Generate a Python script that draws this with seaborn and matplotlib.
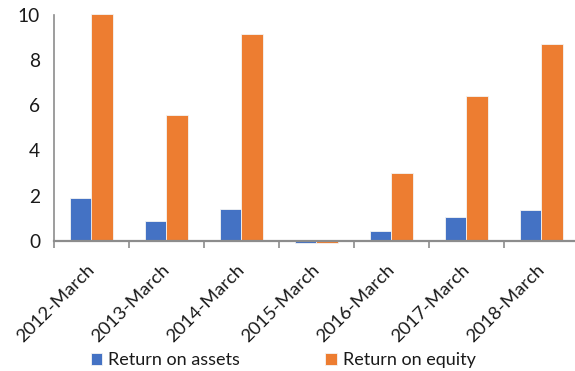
import matplotlib
matplotlib.use("Agg")
import matplotlib.pyplot as plt
import seaborn as sns
import pandas as pd
import numpy as np

categories = ["2012-March", "2013-March", "2014-March", "2015-March",
              "2016-March", "2017-March", "2018-March"]
roa = [1.89, 0.87, 1.42, -0.08, 0.44, 1.04, 1.38]
roe = [10.04, 5.55, 9.14, -0.08, 3.0, 6.39, 8.71]
series = ["Return on assets", "Return on equity"]
colors = ["#4472C4", "#ED7D31"]
yticks = [0, 2, 4, 6, 8, 10]

df = pd.DataFrame({
    "Year": categories * 2,
    "Value": roa + roe,
    "Series": [series[0]] * len(categories) + [series[1]] * len(categories),
})

sns.set_style("white")
plt.rcParams["font.family"] = ["Lato", "DejaVu Sans"]

fig = plt.figure(figsize=(5.75, 3.71), dpi=100)
ax = fig.add_axes([54 / 575, 0.339, 525 / 575, 0.6266])

sns.barplot(data=df, x="Year", y="Value", hue="Series", palette=colors,
            width=0.575, edgecolor="#f4f4f4", linewidth=0.6, ax=ax,
            saturation=1, legend=True)

ax.set_xlim(-0.5, 6.5)
ax.set_ylim(-0.2, 10.1)
ax.set_yticks(yticks)
ax.set_yticklabels([str(v) for v in yticks])
ax.set_xlabel("")
ax.set_ylabel("")

axis_col = "#8c8c8c"
for s in ["top", "right"]:
    ax.spines[s].set_visible(False)
ax.spines["left"].set_bounds(0, 10)
ax.spines["left"].set_color(axis_col)
ax.spines["left"].set_linewidth(1.2)
ax.spines["bottom"].set_position(("data", 0))
ax.spines["bottom"].set_color(axis_col)
ax.spines["bottom"].set_linewidth(1.6)

ax.set_xticks(np.arange(len(categories)))
ax.set_xticklabels(categories, rotation=45, ha="right", va="center",
                   rotation_mode="anchor")
ax.set_xticks(np.arange(len(categories)) - 0.5, minor=True)
ax.tick_params(axis="x", which="major", length=0, pad=19, labelsize=13.3,
               labelcolor="#1a1a1a")
ax.tick_params(axis="x", which="minor", length=5, width=1.2, color=axis_col,
               direction="out")
ax.tick_params(axis="y", length=7, width=1.2, color=axis_col, direction="out",
               labelsize=13.8, labelcolor="#1a1a1a", pad=3)
ax.tick_params(axis="x", bottom=True, which="both")
for bar in ax.patches:
    bar.set_clip_on(False)

leg = ax.legend(loc="center", ncol=2, frameon=False, fontsize=13,
                handlelength=0.65, handleheight=0.65, handletextpad=0.3,
                columnspacing=4.75)
leg.set_bbox_to_anchor((283 / 575, 11 / 371), transform=fig.transFigure)
for t in leg.get_texts():
    t.set_color("#1a1a1a")

fig.savefig("out.png", dpi=100)
